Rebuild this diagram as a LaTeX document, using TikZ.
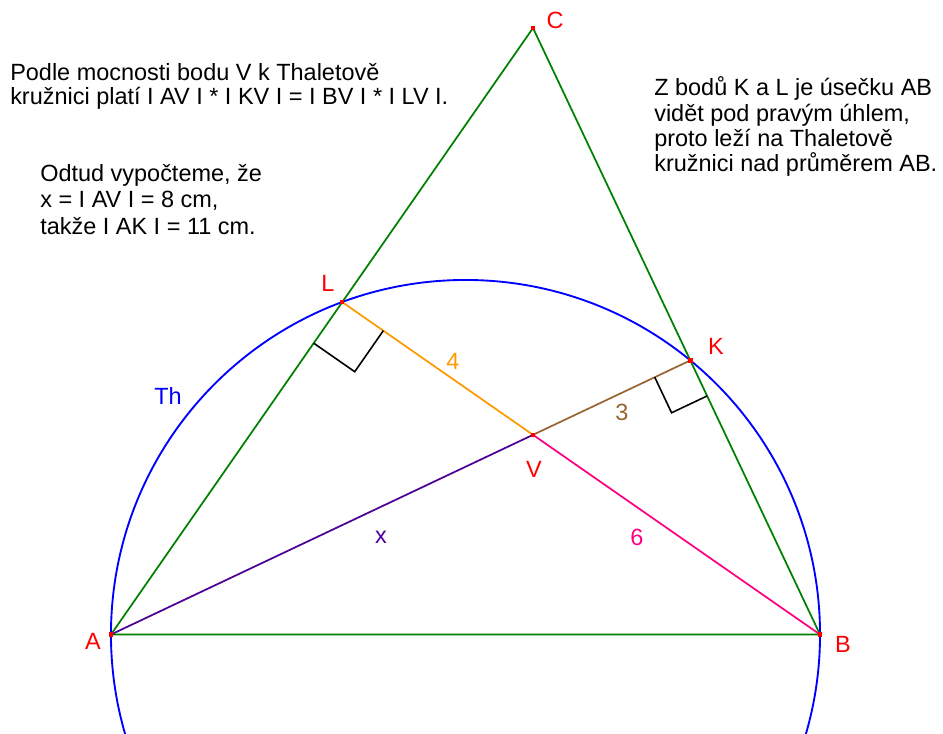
\documentclass[tikz,border=0pt]{standalone}
\usepackage{fontspec}
\setmainfont{Liberation Sans}
\usetikzlibrary{calc,intersections}
\definecolor{tgreen}{RGB}{0,128,0}
\definecolor{tblue}{RGB}{0,0,255}
\definecolor{torange}{RGB}{255,153,0}
\definecolor{tbrown}{RGB}{153,102,51}
\definecolor{tpurple}{RGB}{75,0,150}
\definecolor{tpink}{RGB}{255,0,128}
\definecolor{tred}{RGB}{255,0,0}
\begin{document}
\begin{tikzpicture}[x=0.75pt,y=-0.75pt,
  txt/.style={anchor=base west,inner sep=0pt,font=\fontsize{17.6}{20}\selectfont},
  lbl/.style={inner sep=0pt,font=\fontsize{17.6}{20}\selectfont},
  seg/.style={line width=1.3pt},
  ptdot/.style={fill=tred,draw=none},
  rmark/.style={line width=1.2pt,black}]
\useasboundingbox (0,0) rectangle (943,734);
\clip (0,0) rectangle (943,734);
\coordinate (A) at (111,634.5);
\coordinate (B) at (820,634.5);
\coordinate (C) at (533,28);
\coordinate (K) at ($(B)!(A)!(C)$);
\coordinate (L) at ($(A)!(B)!(C)$);
\path[name path=AK] (A) -- (K);
\path[name path=BL] (B) -- (L);
\path[name intersections={of=AK and BL,by=V}];
\coordinate (M) at ($(A)!0.5!(B)$);
% circle
\draw[tblue,line width=1.4pt] (M) circle [radius=265.9pt];
% triangle
\draw[seg,tgreen] (A) -- (B) -- (C) -- cycle;
% segments
\draw[seg,tpurple] (A) -- (V);
\draw[seg,tbrown] (V) -- (K);
\draw[seg,torange] (L) -- (V);
\draw[seg,tpink] (V) -- (B);
% right angle marks
\coordinate (L1) at ($(L)!37.5pt!(A)$);
\coordinate (L2) at ($(L)!37.5pt!(V)$);
\draw[rmark] (L1) -- ($(L1)+(L2)-(L)$) -- (L2);
\coordinate (K1) at ($(K)!29.5pt!(V)$);
\coordinate (K2) at ($(K)!29.5pt!(B)$);
\draw[rmark] (K1) -- ($(K1)+(K2)-(K)$) -- (K2);
% points
\foreach \p in {A,B,C,K,L,V} \fill[ptdot] ($(\p)+(-2.2,-2.2)$) rectangle ($(\p)+(2.2,2.2)$);
% point labels
\node[lbl,tred] (lC) at (555,20) {C};
\node[lbl,tred] (lL) at (328,283) {L};
\node[lbl,tred] (lK) at (716,346) {K};
\node[lbl,tred] (lV) at (534,469) {V};
\node[lbl,tred] (lA) at (93,641) {A};
\node[lbl,tred] (lB) at (843,644) {B};
% segment labels
\node[lbl,tblue] (lTh) at (168,396) {Th};
\node[lbl,torange] (l4) at (453,361) {4};
\node[lbl,tbrown] (l3) at (622,412) {3};
\node[lbl,tpurple] (lx) at (381,537) {x};
\node[lbl,tpink] (l6) at (637,537) {6};
% texts
\node[txt] (t1a) at (10,81) {Podle mocnosti bodu V k Thaletově};
\node[txt] (t1b) at (10,105) {kružnici platí I AV I * I KV I = I BV I * I LV I.};
\node[txt] (t2a) at (40,182) {Odtud vypočteme, že};
\node[txt] (t2b) at (40,208) {x = I AV I = 8 cm,};
\node[txt] (t2c) at (40,235) {takže I AK I = 11 cm.};
\node[txt] (t3a) at (654,96) {Z bodů K a L je úsečku AB};
\node[txt] (t3b) at (654,121.5) {vidět pod pravým úhlem,};
\node[txt] (t3c) at (654,147) {proto leží na Thaletově};
\node[txt] (t3d) at (654,172) {kružnici nad průměrem AB.};
\end{tikzpicture}
\end{document}
